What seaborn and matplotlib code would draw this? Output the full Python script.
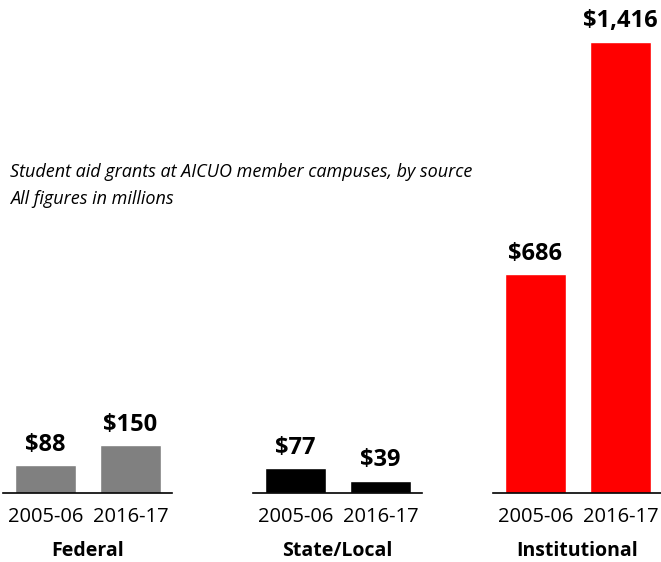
import pandas as pd
import seaborn as sns
import matplotlib.pyplot as plt

sources = ["Federal", "State/Local", "Institutional"]
years = ["2005-06", "2016-17"]
federal = [88, 150]
state_local = [77, 39]
institutional = [686, 1416]
colors = ["#808080", "#000000", "#ff0000"]

df = pd.DataFrame({
    "source": [s for s in sources for _ in years],
    "year": years * 3,
    "value": federal + state_local + institutional,
})

sns.set_style("white")
plt.rcParams["font.family"] = ["Open Sans", "DejaVu Sans"]
plt.rcParams["text.color"] = "black"
plt.rcParams["axes.labelcolor"] = "black"
plt.rcParams["xtick.color"] = "black"

fig = plt.figure(figsize=(6.61, 5.62), dpi=100)
W, H = 661, 562
lefts = [3, 253, 493]
axw = 169
bottom = (H - 493) / H
height = 478 / H

for i, src in enumerate(sources):
    ax = fig.add_axes([lefts[i] / W, bottom, axw / W, height])
    sub = df[df["source"] == src]
    sns.barplot(data=sub, x="year", y="value", color=colors[i], width=0.72,
                saturation=1, ax=ax)
    ax.set_ylim(0, 1500)
    ax.set_xlim(-0.5, 1.49)
    ax.set_yticks([])
    ax.set_ylabel("")
    for s in ["top", "left", "right"]:
        ax.spines[s].set_visible(False)
    ax.spines["bottom"].set_color("black")
    ax.spines["bottom"].set_linewidth(1.2)
    ax.tick_params(axis="x", length=0, pad=10, labelsize=14.5, labelcolor="black")
    ax.set_xlabel(src, fontsize=14, fontweight="bold", labelpad=10, color="black")
    for j, v in enumerate(sub["value"]):
        ax.annotate(f"${v:,}", (j, v), xytext=(0, 6), textcoords="offset points",
                    ha="center", va="bottom", fontsize=17, fontweight="bold",
                    color="black")

fig.text(10 / W, (H - 172) / H, "Student aid grants at AICUO member campuses, by source",
         fontsize=13, style="italic", va="center", ha="left", color="black")
fig.text(10 / W, (H - 199) / H, "All figures in millions",
         fontsize=13, style="italic", va="center", ha="left", color="black")

fig.savefig("out.png", dpi=100)
